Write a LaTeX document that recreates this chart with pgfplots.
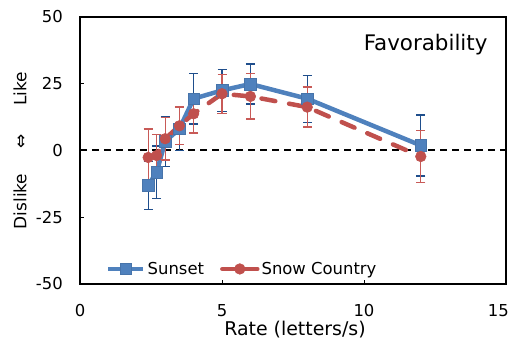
\documentclass[border=0pt]{standalone}
\usepackage{pgfplots}
\pgfplotsset{compat=1.18}
\usepackage{fontspec}
\setmainfont{DejaVu Sans}
\definecolor{sunblue}{HTML}{4F81BD}
\definecolor{sunerr}{HTML}{1F4E8C}
\definecolor{snowred}{HTML}{C0504D}
\definecolor{snowerr}{HTML}{C85A57}
\pgfplotstableread{
x y e
2.4 -13.1 9
2.7 -8.1 9.8
3 3.4 9.4
3.5 8.1 8.1
4 19.4 9.5
5 22.5 7.8
6 24.9 7.5
8 19.4 8.8
12 1.9 11.4
}\sunset
\pgfplotstableread{
x y e
2.4 -2.6 10.6
2.7 -1.9 8
3 4.4 8
3.5 9.25 7
4 13.75 7.2
5 21.25 7.3
6 20.25 8.5
8 16.25 7.5
12 -2.25 9.8
}\snow
\begin{document}
\begin{tikzpicture}
\useasboundingbox (-80bp,-55bp) rectangle (434bp,284bp);
\begin{axis}[
  at={(0,0)}, anchor=south west,
  scale only axis, width=426bp, height=267bp,
  xmin=0, xmax=15, ymin=-50, ymax=50,
  xtick={0,5,10}, ytick={-50,-25,0,25,50},
  extra x ticks={15},
  extra x tick style={xticklabel style={anchor=north east, xshift=3bp}},
  tick pos=left, tick align=inside,
  major tick length=4bp,
  every tick/.style={black, line width=1bp},
  axis line style={line width=1.6bp},
  /pgf/number format/assume math mode=true,
  ticklabel style={font=\fontsize{16.5}{18}\selectfont},
  yticklabel style={anchor=east, inner sep=0pt, xshift=-17bp},
  xticklabel style={anchor=north, inner sep=0pt, yshift=-20bp},
  legend style={at={(axis description cs:0,0)}, anchor=south west,
    xshift=26bp, yshift=6bp, draw=none, fill=none,
    font=\fontsize{16.5}{18}\selectfont, inner sep=0pt,
    /tikz/every even column/.append style={column sep=14bp}},
  legend columns=2,
  legend cell align=left,
  legend image code/.code={\draw[#1, mark repeat=2, mark phase=2, dash pattern=on 35bp off 0bp] plot coordinates {(0bp,0bp) (17.5bp,0bp) (35bp,0bp)};},
  clip=false,
]
\addplot[forget plot, black, line width=2bp, dash pattern=on 7bp off 5bp] coordinates {(0,0) (15,0)};
\addplot[sunblue, line width=4.5bp, mark=square*, mark size=5.8bp,
  mark options={solid, fill=sunblue, draw=sunblue!90!black, line width=0.6bp},
  error bars/.cd, y dir=both, y explicit,
  error bar style={sunerr, line width=1.3bp, solid},
  error mark options={sunerr, line width=1.3bp, rotate=90, mark size=4.5bp}]
  table[x=x, y=y, y error=e] {\sunset};
\addlegendentry{Sunset}
\addplot[snowred, line width=4.5bp, dash pattern=on 14bp off 14bp, line cap=round, mark=*, mark size=5.3bp,
  mark options={solid, fill=snowred, draw=snowred, line width=0.6bp},
  error bars/.cd, y dir=both, y explicit,
  error bar style={snowerr, line width=1.3bp, solid, line cap=butt},
  error mark options={snowerr, line width=1.3bp, rotate=90, mark size=4.5bp}]
  table[x=x, y=y, y error=e] {\snow};
\addlegendentry{Snow Country}
\node[anchor=base east, font=\fontsize{21.5}{24}\selectfont] at ([xshift=-15bp, yshift=-34bp]rel axis cs:1,1) {Favorability};
\end{axis}
\node[font=\fontsize{19}{21}\selectfont, anchor=base] at (215bp,-51.5bp) {Rate (letters/s)};
\node[rotate=90, font=\fontsize{17}{19}\selectfont] at (-60bp,133.5bp) {Dislike\hspace{25bp}⇔\hspace{29bp}Like};
\end{tikzpicture}
\end{document}
